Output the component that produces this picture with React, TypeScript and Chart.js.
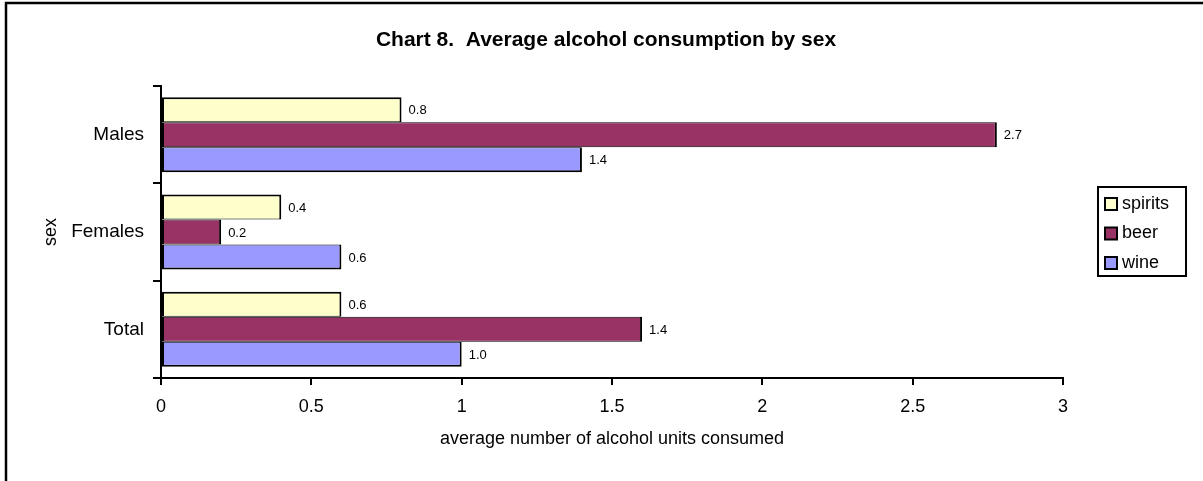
import React, { useEffect, useRef } from "react";
import { Chart, registerables } from "chart.js";

Chart.register(...registerables);

const FONT = "'Liberation Sans', Arial, sans-serif";

const categories = ["Males", "Females", "Total"];
const seriesNames = ["spirits", "beer", "wine"];
const seriesColors = ["#FFFFCC", "#993366", "#9999FF"];
const spiritsValues = [0.8, 0.4, 0.6];
const beerValues = [2.78, 0.2, 1.6];
const wineValues = [1.4, 0.6, 1.0];
const spiritsLabels = ["0.8", "0.4", "0.6"];
const beerLabels = ["2.7", "0.2", "1.4"];
const wineLabels = ["1.4", "0.6", "1.0"];
const xMin = 0;
const xMax = 3;
const xStep = 0.5;
const titleText = "Chart 8.  Average alcohol consumption by sex";
const xTitleText = "average number of alcohol units consumed";
const yTitleText = "sex";

const decorPlugin = {
  id: "decor",
  afterDatasetsDraw(chart: any) {
    const ctx = chart.ctx;
    ctx.save();
    ctx.font = `13px ${FONT}`;
    ctx.fillStyle = "#000";
    ctx.textBaseline = "middle";
    ctx.textAlign = "left";
    chart.data.datasets.forEach((ds: any, di: number) => {
      const meta = chart.getDatasetMeta(di);
      meta.data.forEach((bar: any, i: number) => {
        ctx.fillText(ds.valueLabels[i], bar.x + 7, bar.y + 1);
      });
    });
    ctx.restore();
  },
  afterDraw(chart: any) {
    const ctx = chart.ctx;
    ctx.save();
    // outer frame
    ctx.strokeStyle = "#000";
    ctx.lineWidth = 2.5;
    ctx.strokeRect(6, 3, 1400, 800);
    // title
    ctx.fillStyle = "#000";
    ctx.font = `bold 21px ${FONT}`;
    ctx.textAlign = "center";
    ctx.textBaseline = "middle";
    ctx.fillText(titleText, 606, 40);
    // legend
    ctx.lineWidth = 2;
    ctx.strokeRect(1098, 187, 88, 89);
    ctx.font = `18px ${FONT}`;
    ctx.textAlign = "left";
    const rows = [204, 233.5, 263];
    chart.data.datasets.forEach((ds: any, i: number) => {
      const cy = rows[i];
      ctx.fillStyle = "#000";
      ctx.fillRect(1104, cy - 7, 14, 14);
      ctx.fillStyle = ds.backgroundColor;
      ctx.fillRect(1106, cy - 5, 10, 10);
      ctx.fillStyle = "#000";
      ctx.fillText(ds.label, 1122, cy);
    });
    ctx.restore();
  },
};

export default function App() {
  const canvasRef = useRef<HTMLCanvasElement | null>(null);

  useEffect(() => {
    if (!canvasRef.current) return;
    const values = [spiritsValues, beerValues, wineValues];
    const labels = [spiritsLabels, beerLabels, wineLabels];
    const borders = [
      { top: 2, right: 2, bottom: 1, left: 2 },
      { top: 1, right: 2, bottom: 1, left: 2 },
      { top: 1, right: 2, bottom: 2, left: 2 },
    ];
    const chart = new Chart(canvasRef.current, {
      type: "bar",
      data: {
        labels: categories,
        datasets: seriesNames.map((name, i) => ({
          label: name,
          data: values[i],
          valueLabels: labels[i],
          backgroundColor: seriesColors[i],
          borderColor: "#000",
          borderWidth: borders[i],
          borderSkipped: false,
          categoryPercentage: 0.77,
          barPercentage: 1.0,
        })) as any,
      },
      options: {
        indexAxis: "y",
        responsive: false,
        animation: false,
        devicePixelRatio: 1,
        layout: { padding: { top: 86, right: 140, bottom: 0, left: 0 } },
        plugins: {
          legend: { display: false },
          title: { display: false },
          tooltip: { enabled: false },
        },
        scales: {
          x: {
            type: "linear",
            min: xMin,
            max: xMax,
            afterFit: (s: any) => {
              s.height = 103;
            },
            ticks: {
              stepSize: xStep,
              color: "#000",
              font: { family: FONT, size: 18 },
              padding: 11,
              callback: (v: any) => String(Number(v)),
            },
            grid: {
              drawOnChartArea: false,
              color: "#000",
              lineWidth: 2,
              tickLength: 7,
              tickWidth: 2,
            },
            border: { display: true, color: "#000", width: 2 },
            title: {
              display: true,
              text: xTitleText,
              color: "#000",
              font: { family: FONT, size: 18 },
              padding: { top: 0, bottom: 31 },
            },
          },
          y: {
            type: "category",
            afterFit: (s: any) => {
              s.width = 161;
            },
            ticks: {
              color: "#000",
              font: { family: FONT, size: 19 },
              padding: 9,
            },
            grid: {
              offset: true,
              drawOnChartArea: false,
              color: "#000",
              lineWidth: 2,
              tickLength: 8,
              tickWidth: 2,
            },
            border: { display: true, color: "#000", width: 2 },
            title: {
              display: true,
              text: yTitleText,
              color: "#000",
              font: { family: FONT, size: 18 },
              padding: { top: 40, bottom: 0 },
            },
          },
        },
      } as any,
      plugins: [decorPlugin],
    });
    return () => chart.destroy();
  }, []);

  return (
    <div
      style={{
        position: "absolute",
        left: 0,
        top: 0,
        width: 1203,
        height: 481,
        background: "#fff",
      }}
    >
      <canvas
        ref={canvasRef}
        width={1203}
        height={481}
        style={{ display: "block" }}
      />
    </div>
  );
}
